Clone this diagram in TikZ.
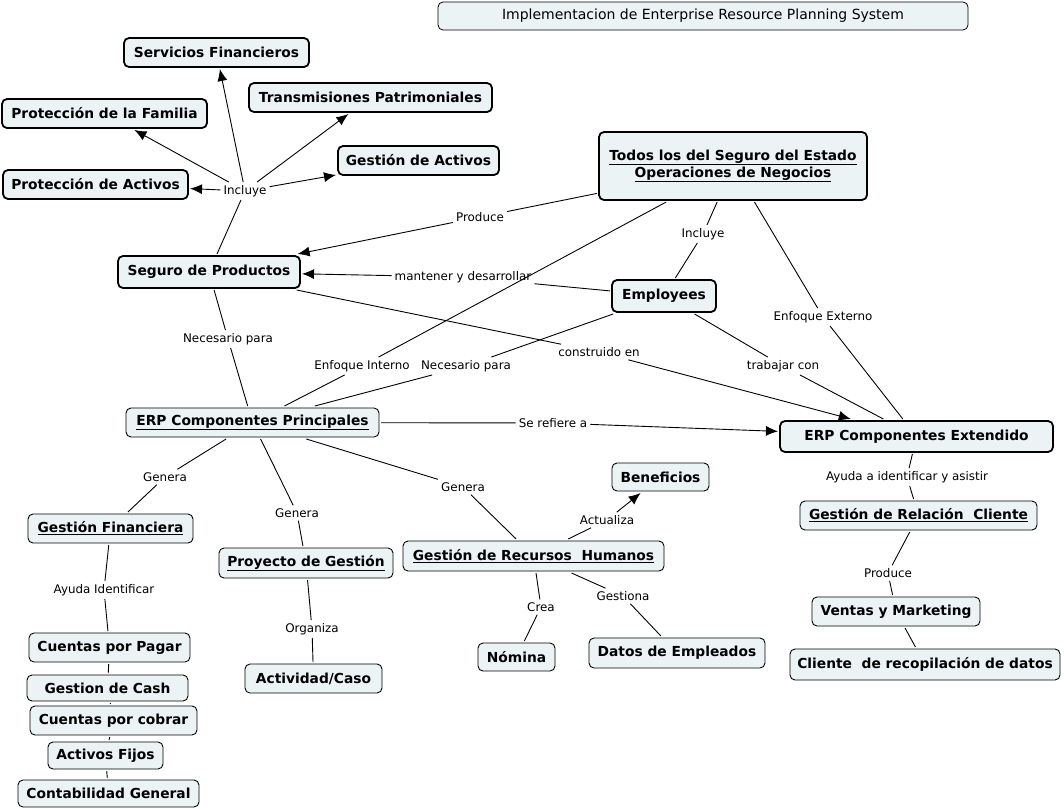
\documentclass[tikz,border=0pt]{standalone}
\usepackage{fontspec}
\setmainfont{DejaVu Sans}
\usetikzlibrary{arrows.meta}
\definecolor{boxfill}{RGB}{236,243,245}
\tikzset{
  basebox/.style={draw=black, fill=boxfill, rounded corners=5pt, inner sep=2pt, outer sep=2pt, align=center,
    font=\bfseries\fontsize{13.8}{17}\selectfont},
  thickbox/.style={basebox, line width=1.8pt},
  thinbox/.style={basebox, line width=0.9pt},
  titlebox/.style={draw=black, fill=boxfill, rounded corners=5pt, line width=0.8pt, inner sep=2pt,
    font=\fontsize{14}{16}\selectfont},
  lbl/.style={inner sep=3pt, font=\fontsize{11.9}{13}\selectfont},
  conn/.style={line width=0.9pt, draw=black},
  arr/.style={conn, -{Latex[length=12pt,width=10pt]}},
}
\begin{document}
\begin{tikzpicture}[x=1pt,y=-1pt]
\useasboundingbox (0,0) rectangle (1064,808);

% title
\node[titlebox, minimum width=530, minimum height=28] (title) at (703,16) {Implementacion de Enterprise Resource Planning System};

% boxes
\node[thickbox, minimum width=185, minimum height=29] (sf) at (216.5,52.5) {Servicios Financieros};
\node[thickbox, minimum width=243, minimum height=29] (tp) at (370.5,97.5) {Transmisiones Patrimoniales};
\node[thickbox, minimum width=205, minimum height=29] (pf) at (104.5,113.5) {Protección de la Familia};
\node[thickbox, minimum width=161, minimum height=29] (ga) at (418.5,160.5) {Gestión de Activos};
\node[thickbox, minimum width=185, minimum height=29] (pa) at (95.5,184.5) {Protección de Activos};
\node[thickbox, minimum width=268, minimum height=68] (todos) at (733,166) {\underline{Todos los del Seguro del Estado}\\\underline{Operaciones de Negocios}};
\node[thickbox, minimum width=182, minimum height=32] (sp) at (209,272) {Seguro de Productos};
\node[thickbox, minimum width=104, minimum height=32] (emp) at (664,296) {Employees};
\node[thinbox, minimum width=253, minimum height=29] (erpp) at (252.5,422.5) {\underline{ERP Componentes Principales}};
\node[thickbox, minimum width=273, minimum height=31] (erpe) at (916.5,436.5) {ERP Componentes Extendido};
\node[thinbox, minimum width=237, minimum height=29] (grc) at (918.5,515.5) {\underline{Gestión de Relación\ \ Cliente}};
\node[thinbox, minimum width=168, minimum height=29] (vm) at (896,611.5) {Ventas y Marketing};
\node[thinbox, minimum width=270, minimum height=31] (crd) at (925,664.5) {Cliente\ \ de recopilación de datos};
\node[thinbox, minimum width=165, minimum height=29] (gf) at (110.5,528.5) {\underline{Gestión Financiera}};
\node[thinbox, minimum width=174, minimum height=30] (pg) at (306,563) {\underline{Proyecto de Gestión}};
\node[thinbox, minimum width=261, minimum height=30] (grh) at (533.5,556) {\underline{Gestión de Recursos\ \ Humanos}};
\node[thinbox, minimum width=97, minimum height=28] (ben) at (660.5,477) {Beneficios};
\node[thinbox, minimum width=77, minimum height=28] (nom) at (516.5,657) {Nómina};
\node[thinbox, minimum width=176, minimum height=30] (de) at (677,653) {Datos de Empleados};
\node[thinbox, minimum width=161, minimum height=29] (cpp) at (109.5,647.5) {Cuentas por Pagar};
\node[thinbox, minimum width=137, minimum height=29] (ac) at (313.5,678.5) {Actividad/Caso};
\node[thinbox, minimum width=161, minimum height=26] (gc) at (107.5,688) {Gestion de Cash};
\node[thinbox, minimum width=167, minimum height=29] (cpc) at (113.5,720.5) {Cuentas por cobrar};
\node[thinbox, minimum width=115, minimum height=27] (af) at (105.5,755.5) {Activos Fijos};
\node[thinbox, minimum width=181, minimum height=27] (cg) at (108.5,793.5) {Contabilidad General};

% labels
\node[lbl] (inc1) at (245,191) {Incluye};
\node[lbl] (prod1) at (480,217) {Produce};
\node[lbl] (inc2) at (703,234) {Incluye};
\node[lbl] (mant) at (463,277) {mantener y desarrollar};
\node[lbl] (ext) at (823,317) {Enfoque Externo};
\node[lbl] (nec1) at (228,339) {Necesario para};
\node[lbl] (constr) at (599,352) {construido en};
\node[lbl] (int) at (362,366) {Enfoque Interno};
\node[lbl] (nec2) at (466,366) {Necesario para};
\node[lbl] (trab) at (783,366) {trabajar con};
\node[lbl] (ref) at (553,423) {Se refiere a};
\node[lbl] (gen1) at (165,477) {Genera};
\node[lbl] (ayuda) at (907,477) {Ayuda a identificar y asistir};
\node[lbl] (gen3) at (463,487) {Genera};
\node[lbl] (gen2) at (297,513) {Genera};
\node[lbl] (act) at (607,520) {Actualiza};
\node[lbl] (prod2) at (888,573) {Produce};
\node[lbl] (ayid) at (104,590) {Ayuda Identificar};
\node[lbl] (gest) at (623,596) {Gestiona};
\node[lbl] (crea) at (541,607) {Crea};
\node[lbl] (org) at (312,629) {Organiza};

% connectors
\draw[conn] (sp) -- (inc1);
\draw[arr] (inc1) -- (sf);
\draw[arr] (inc1) -- (pf);
\draw[arr] (inc1) -- (tp);
\draw[arr] (inc1) -- (ga);
\draw[arr] (inc1) -- (pa);

\draw[conn] (todos) -- (prod1);
\draw[arr] (prod1) -- (sp);
\draw[conn] (todos) -- (inc2);
\draw[conn] (inc2) -- (emp);
\draw[conn] (todos) -- (ext);
\draw[conn] (ext) -- (erpe);
\draw[conn] (todos) -- (int);
\draw[conn] (int) -- (erpp);

\draw[conn] (emp) -- (mant);
\draw[arr] (mant) -- (sp);
\draw[conn] (emp) -- (nec2);
\draw[conn] (nec2) -- (erpp);
\draw[conn] (emp) -- (trab);
\draw[conn] (trab) -- (erpe);

\draw[conn] (sp) -- (constr);
\draw[arr] (constr) -- (erpe);
\draw[conn] (sp) -- (nec1);
\draw[conn] (nec1) -- (erpp);

\draw[conn] (erpp) -- (ref);
\draw[arr] (ref) -- (erpe);
\draw[conn] (erpp) -- (gen1);
\draw[conn] (gen1) -- (gf);
\draw[conn] (erpp) -- (gen2);
\draw[conn] (gen2) -- (pg);
\draw[conn] (erpp) -- (gen3);
\draw[conn] (gen3) -- (grh);

\draw[conn] (erpe) -- (ayuda);
\draw[conn] (ayuda) -- (grc);
\draw[conn] (grc) -- (prod2);
\draw[conn] (prod2) -- (vm);
\draw[conn] (vm) -- (crd);

\draw[conn] (gf) -- (ayid);
\draw[conn] (ayid) -- (cpp);
\draw[conn] (cpp) -- (gc);
\draw[conn] (gc) -- (cpc);
\draw[conn] (cpc) -- (af);
\draw[conn] (af) -- (cg);

\draw[conn] (pg) -- (org);
\draw[conn] (org) -- (ac);

\draw[conn] (grh) -- (act);
\draw[arr] (act) -- (ben);
\draw[conn] (grh) -- (crea);
\draw[conn] (crea) -- (nom);
\draw[conn] (grh) -- (gest);
\draw[conn] (gest) -- (de);
\end{tikzpicture}
\end{document}
